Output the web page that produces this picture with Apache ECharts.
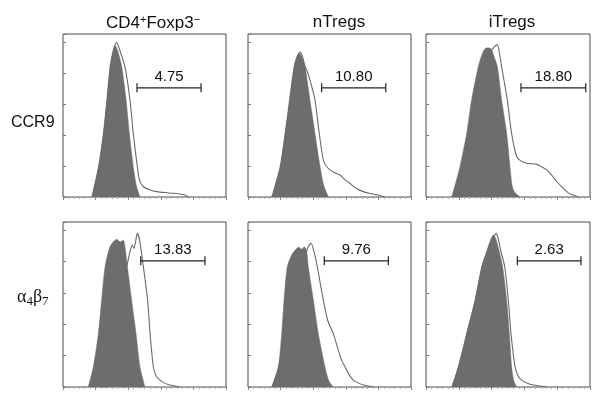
<!DOCTYPE html>
<html>
<head>
<meta charset="utf-8">
<script src="https://cdn.jsdelivr.net/npm/echarts@6/dist/echarts.min.js"></script>
<style>
html,body{margin:0;padding:0;background:#fff;}
#c{width:601px;height:403px;}
</style>
</head>
<body>
<div id="c"></div>
<script>
// Column titles and row labels
const columnTitles = ['CD4{sup|+}Foxp3{sup|\u2212}', 'nTregs', 'iTregs'];
const rowLabels = ['CCR9', '\u03b1{sub|4}\u03b2{sub|7}'];

// Histograms: [fluorescence (panel %), count (% of panel height)]
// Row 1: CCR9 — filled = control, line = stained
const ccr9Cd4Fill = [[17.6,0],[21.7,18.6],[24.7,39],[26.8,59.5],[28.8,80],[30.5,89],[31.9,93],[33.5,90],[36,80],[38.7,59.5],[40.7,39],[43.1,18.6],[45,7],[47.2,0]];
const ccr9Cd4Line = [[18,0],[22,18],[25,39],[27.2,59.5],[29.3,80],[31,90],[32.9,94.7],[34.5,91],[38,80],[41.1,59.5],[43.1,39],[45.6,18.6],[47,10],[49.3,6.3],[53,4.5],[57.5,3.3],[65,2.5],[73.8,1.5],[77,0]];
const ccr9NtregFill = [[14.5,0],[19.6,18.6],[22.7,39],[25.4,59.5],[28.2,80],[30,86],[31.5,88.3],[33,86],[35,80],[38,59.5],[41.1,39],[44.2,18.6],[46.5,7],[49.3,0]];
const ccr9NtregLine = [[15,0],[20,18.6],[23,39],[25.8,59.5],[28.6,80],[30.5,87],[32,89],[33.5,86],[35,80],[36.4,77],[38.5,70],[41.1,59.5],[43.7,39],[46.2,22.7],[48,19],[50.3,16.6],[53,15],[56.4,13.5],[59,11],[62.6,8.3],[66,5.5],[70.7,3.3],[75,2.2],[78.9,1.4],[84,0]];
const ccr9ItregFill = [[15.7,0],[20.7,18.6],[24.8,39],[27.8,59.5],[31.9,80],[34,87],[36,91],[38,91.5],[40,90.5],[41.5,86],[43.5,80],[46.1,59.5],[49.2,39],[51.2,18.6],[52.5,7],[54,3],[57.3,0]];
const ccr9ItregLine = [[17.7,0],[22.8,18.6],[26.8,39],[29.9,59.5],[34.9,80],[39,88.5],[41.5,92],[43.5,93.3],[44.8,88],[46.1,80],[49.6,59.5],[52.2,39],[55.3,24.7],[58,22],[61.4,20.7],[64,20.5],[67.5,20],[70.5,18.5],[73.6,16.6],[77,13],[79.7,9.5],[83,6],[85.8,3.3],[88,1.8],[90.9,0.8],[93,0]];
// Row 2: alpha4 beta7
const a4b7Cd4Fill = [[15.5,0],[18.6,12.3],[21.7,32.5],[23.7,52.7],[25.8,72.9],[28.8,85],[30.9,88],[33,89.5],[35,88],[37,89],[38,85],[39.5,72.9],[42.1,52.7],[44.8,32.5],[47.2,12.3],[50.3,0]];
const a4b7Cd4Line = [[16.5,0],[20,4],[24.7,12.3],[29.9,32.5],[33.9,52.7],[39.1,72.9],[41.1,82],[42.5,86],[43.5,84],[44.5,88],[45.6,93.1],[47,89],[49.3,72.9],[51.9,52.7],[53.4,32.5],[55.4,12.3],[57,7],[59.5,4.2],[62,2.5],[65.6,1.2],[71.8,0]];
const a4b7NtregFill = [[14.5,0],[18.6,12.3],[20.7,32.5],[22.1,52.7],[24.1,72.9],[26.8,80],[29,83],[30.9,84.7],[33,83.5],[34.5,85],[36,82],[37,72.9],[40.1,52.7],[43.1,32.5],[47.2,12.3],[49.5,4],[52.3,0]];
const a4b7NtregLine = [[15,0],[19,12.3],[22.7,32.5],[25.8,52.7],[28.5,65],[30.9,72.9],[33,76],[35,79],[36.5,84],[38.7,87.1],[40.5,82],[42.5,72.9],[46.2,52.7],[49,40],[52.3,32.5],[55.4,22.4],[57.5,16],[59.5,12.3],[62,7.5],[64.6,4.2],[67.5,2.5],[70.8,1.2],[76.9,0]];
const a4b7ItregFill = [[15.7,0],[19.7,12.3],[24.8,32.5],[29.9,52.7],[34,72.9],[37,82],[39,88],[41,92.1],[42.5,90],[44.7,82],[46.7,72.9],[49.2,52.7],[50.8,32.5],[52.2,12.3],[53.5,4],[55.3,0]];
const a4b7ItregLine = [[16,0],[19.9,12.3],[25,32.5],[30.1,52.7],[34.2,72.9],[37.2,82],[39.5,88],[41.5,91],[42.7,93.1],[44,90],[45.7,82],[48,72.9],[50.2,52.7],[51.8,32.5],[54.3,12.3],[56,7],[58.3,4.2],[61.5,2.4],[65.4,1.2],[73.6,0]];

// Gates: start, end, height, label
const gateStart = [45.4, 45.2, 57.9, 47.7, 46.8, 55.7];
const gateEnd   = [84.7, 84.5, 97.4, 87.1, 86.1, 94.5];
const gateY     = [67, 67, 67, 76.5, 76.5, 76.5];
const gateLabels = ['4.75', '10.80', '18.80', '13.83', '9.76', '2.63'];

const fills = [ccr9Cd4Fill, ccr9NtregFill, ccr9ItregFill, a4b7Cd4Fill, a4b7NtregFill, a4b7ItregFill];
const lines = [ccr9Cd4Line, ccr9NtregLine, ccr9ItregLine, a4b7Cd4Line, a4b7NtregLine, a4b7ItregLine];

// Layout
const colLeft = [63, 248, 426];
const colWidth = [163, 163, 164];
const rowTop = [34, 222];
const rowHeight = [163, 165];
const titleCenters = [148, 334, 507];

const chart = echarts.init(document.getElementById('c'), null, {renderer: 'canvas'});
const grids = [], xAxes = [], yAxes = [], series = [];
const FONT = 'Liberation Sans, Arial, Helvetica, sans-serif';
const SERIF = 'Liberation Serif, DejaVu Serif, serif';

for (let r = 0; r < 2; r++) {
  for (let c = 0; c < 3; c++) {
    const i = r * 3 + c;
    grids.push({left: colLeft[c], top: rowTop[r], width: colWidth[c], height: rowHeight[r],
      show: true, borderColor: '#4a4a4a', borderWidth: 1, backgroundColor: '#fff'});
    xAxes.push({type: 'value', gridIndex: i, min: 0, max: 100, interval: 20,
      axisLine: {show: false}, splitLine: {show: false}, axisLabel: {show: false},
      axisTick: {show: true, inside: false, length: 3, lineStyle: {color: '#888', width: 1}},
      minorTick: {show: true, splitNumber: 6, length: 2, lineStyle: {color: '#aaa', width: 1}}});
    yAxes.push({type: 'value', gridIndex: i, min: 0, max: 100, interval: 19,
      axisLine: {show: false}, splitLine: {show: false}, axisLabel: {show: false},
      axisTick: {show: true, inside: true, length: 3, lineStyle: {color: '#777', width: 1}}});
    series.push({type: 'line', xAxisIndex: i, yAxisIndex: i, data: fills[i], smooth: 0.25,
      symbol: 'none', lineStyle: {width: 0.5, color: '#6d6d6d'},
      areaStyle: {color: '#6d6d6d', opacity: 1}, silent: true, z: 2});
    series.push({type: 'line', xAxisIndex: i, yAxisIndex: i, data: lines[i], smooth: 0.25,
      symbol: 'none', lineStyle: {width: 1.1, color: '#6a6a6a'}, silent: true, z: 3});
    const label = gateLabels[i];
    series.push({type: 'custom', xAxisIndex: i, yAxisIndex: i, coordinateSystem: 'cartesian2d',
      data: [[gateStart[i], gateY[i], gateEnd[i]]], z: 5, silent: true, clip: false,
      renderItem: function (params, api) {
        const p1 = api.coord([api.value(0), api.value(1)]);
        const p2 = api.coord([api.value(2), api.value(1)]);
        const st = {stroke: '#222', lineWidth: 1.2};
        return {type: 'group', children: [
          {type: 'line', shape: {x1: p1[0], y1: p1[1], x2: p2[0], y2: p2[1]}, style: st},
          {type: 'line', shape: {x1: p1[0], y1: p1[1] - 4.5, x2: p1[0], y2: p1[1] + 4.5}, style: st},
          {type: 'line', shape: {x1: p2[0], y1: p2[1] - 4.5, x2: p2[0], y2: p2[1] + 4.5}, style: st},
          {type: 'text', style: {text: label, x: (p1[0] + p2[0]) / 2, y: p1[1] - 3,
            align: 'center', verticalAlign: 'bottom', fontSize: 15, fontFamily: FONT, fill: '#111'}}
        ]};
      }});
  }
}

const titles = [];
for (let c = 0; c < 3; c++) {
  titles.push({text: columnTitles[c], left: titleCenters[c], top: 9, textAlign: 'center',
    textStyle: {fontSize: 17, fontWeight: 'normal', color: '#111', fontFamily: FONT,
      rich: {sup: {fontSize: 11, verticalAlign: 'top', padding: [0, 0, 8, 0], color: '#111', fontFamily: FONT}}}});
}
titles.push({text: rowLabels[0], left: 6, top: 110,
  textStyle: {fontSize: 16, fontWeight: 'normal', color: '#111', fontFamily: FONT}});
titles.push({text: rowLabels[1], left: 12, top: 282,
  textStyle: {fontSize: 18, fontWeight: 'normal', color: '#111', fontFamily: SERIF,
    rich: {sub: {fontSize: 13, padding: [8, 0, 0, 0], color: '#111', fontFamily: SERIF}}}});

chart.setOption({
  animation: false,
  backgroundColor: '#fff',
  title: titles,
  grid: grids,
  xAxis: xAxes,
  yAxis: yAxes,
  series: series
});
</script>
</body>
</html>
